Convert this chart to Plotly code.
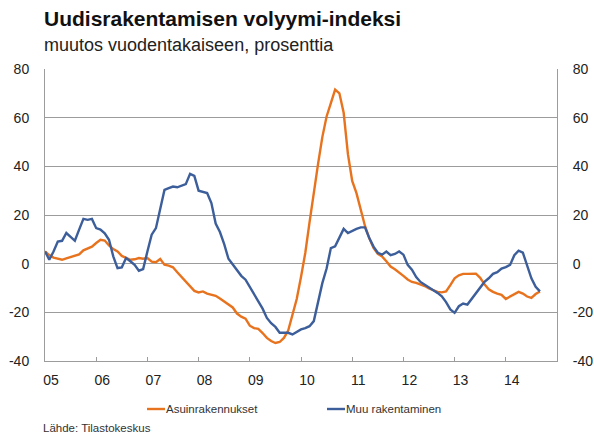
import plotly.graph_objects as go

start_year = 2005
asuin = [5.0, 3.5, 2.5, 2.0, 1.6, 2.2, 2.8, 3.3, 3.8, 5.5, 6.4, 7.0,
         8.5, 9.8, 9.5, 7.5, 6.0, 5.0, 3.2, 2.4, 1.6, 1.8, 2.3, 2.0,
         2.3, 0.8, 0.6, 1.9, -0.4, -0.8, -1.5, -3.5, -5.5, -7.3, -9.5, -11.2,
         -11.8, -11.4, -12.3, -12.7, -13.2, -14.3, -15.5, -16.8, -18.0, -20.5, -21.8, -22.6,
         -25.5, -26.5, -26.8, -28.5, -30.5, -31.8, -32.6, -32.2, -30.5, -27.5, -21.5, -14.5,
         -5.5, 4.4, 17.0, 30.0, 41.0, 52.0, 60.5, 66.0, 71.5, 70.0, 62.0, 45.0,
         34.0, 29.0, 22.5, 15.5, 10.5, 6.5, 4.0, 3.0, 1.0, -1.2, -2.3, -3.5,
         -5.0, -6.5, -7.5, -7.9, -8.5, -9.2, -10.2, -11.0, -11.6, -11.8, -11.4, -8.8,
         -6.0, -4.8, -4.2, -4.2, -4.2, -4.1, -5.8, -8.5, -10.5, -11.6, -12.3, -12.8,
         -14.5, -13.5, -12.5, -11.6, -12.3, -13.5, -14.1, -12.5, -11.4]
muu = [5.0, 1.6, 5.0, 9.1, 9.4, 12.6, 11.0, 9.4, 14.0, 18.4, 18.0, 18.4,
       14.6, 14.0, 12.5, 9.8, 3.0, -1.8, -1.5, 2.3, 1.0, -0.5, -2.9, -2.2,
       5.0, 11.9, 14.6, 22.0, 30.3, 31.0, 31.7, 31.4, 32.0, 32.7, 36.9, 36.1,
       30.0, 29.4, 29.0, 24.9, 16.5, 13.0, 8.0, 2.0, -0.5, -3.0, -5.0, -6.6,
       -9.5, -12.5, -15.5, -18.5, -22.3, -24.5, -26.0, -28.4, -28.4, -28.4, -29.1, -28.0,
       -27.0, -26.5, -25.7, -23.6, -16.1, -8.0, -2.0, 6.4, 7.1, 10.5, 14.3, 12.6,
       13.5, 14.3, 14.9, 14.9, 10.5, 7.0, 4.5, 3.7, 5.0, 3.5, 4.0, 5.0,
       3.7, -0.5, -2.5, -5.5, -7.5, -8.6, -10.0, -10.9, -12.0, -13.4, -15.8, -18.8,
       -20.2, -17.5, -16.4, -16.8, -14.5, -12.0, -9.5, -7.5, -6.0, -4.2, -3.5, -2.0,
       -1.4, -0.5, 3.5, 5.3, 4.5, -1.0, -6.0, -9.5, -11.4]
x = [start_year + i / 12 for i in range(len(asuin))]

year_ticks = list(range(2005, 2016))
year_labels = ["05", "06", "07", "08", "09", "10", "11", "12", "13", "14", ""]
y_ticks = [-40, -20, 0, 20, 40, 60, 80]
y_labels = ["-40", "-20", "0", "20", "40", "60", "80"]
series_names = ["Asuinrakennukset", "Muu rakentaminen"]

ORANGE = "#E8731E"
BLUE = "#3C5E9A"
GRID = "#9C9C9C"
FONT = "Liberation Sans, Arial, sans-serif"

W, H = 594, 434
ML, MR, MT, MB = 45, 37, 69, 73
PW, PH = W - ML - MR, H - MT - MB


def px2x(px):
    return (px - ML) / PW


def px2y(py):
    return 1 - (py - MT) / PH


fig = go.Figure()
fig.add_trace(go.Scatter(x=x, y=asuin, mode="lines", name=series_names[0],
                         line=dict(color=ORANGE, width=2.4), showlegend=False))
fig.add_trace(go.Scatter(x=x, y=muu, mode="lines", name=series_names[1],
                         line=dict(color=BLUE, width=2.4), showlegend=False))
fig.add_trace(go.Scatter(x=x, y=asuin, mode="lines", yaxis="y2", showlegend=False,
                         opacity=0, hoverinfo="skip", line=dict(width=0)))

axis_common = dict(range=[-40, 80], tickvals=y_ticks, ticktext=y_labels,
                   showgrid=True, gridcolor=GRID,
                   gridwidth=1, showline=True, linecolor=GRID, linewidth=1,
                   ticks="", zeroline=False, automargin=False,
                   tickfont=dict(size=14, color="#222"))

annotations = [
    dict(text="<b>Uudisrakentamisen volyymi-indeksi</b>", xref="paper", yref="paper",
         x=px2x(42), y=px2y(19), xanchor="left", yanchor="middle", showarrow=False,
         font=dict(size=21, color="#111")),
    dict(text="muutos vuodentakaiseen, prosenttia", xref="paper", yref="paper",
         x=px2x(42), y=px2y(45), xanchor="left", yanchor="middle", showarrow=False,
         font=dict(size=18, color="#222")),
    dict(text="Lähde: Tilastokeskus", xref="paper", yref="paper",
         x=px2x(41), y=px2y(428), xanchor="left", yanchor="middle", showarrow=False,
         font=dict(size=11.5, color="#333")),
]
shapes = []
legend_items = [(series_names[0], ORANGE, 147, 165), (series_names[1], BLUE, 327, 345)]
for name, col, x0, x1 in legend_items:
    shapes.append(dict(type="line", xref="paper", yref="paper",
                       x0=px2x(x0), x1=px2x(x1), y0=px2y(409), y1=px2y(409),
                       line=dict(color=col, width=2.4)))
    annotations.append(dict(text=name, xref="paper", yref="paper",
                            x=px2x(x1 - 1), y=px2y(409), xanchor="left", yanchor="middle",
                            showarrow=False, font=dict(size=11.5, color="#333")))

fig.update_layout(
    width=W, height=H,
    margin=dict(l=ML, r=MR, t=MT, b=MB, autoexpand=False),
    paper_bgcolor="white", plot_bgcolor="white",
    font=dict(family=FONT, color="#222"),
    xaxis=dict(range=[2005, 2015], tickvals=year_ticks, ticktext=year_labels,
               showgrid=False, showline=True, linecolor=GRID, linewidth=1,
               ticks="inside", ticklen=4, tickcolor=GRID, zeroline=False,
               automargin=False, ticklabelshift=6, ticklabelstandoff=6,
               tickfont=dict(size=14, color="#222")),
    yaxis=dict(**axis_common, side="left", ticklabelstandoff=12),
    yaxis2=dict(**axis_common, side="right", overlaying="y", matches="y",
                ticklabelstandoff=12),
    showlegend=False,
    annotations=annotations,
    shapes=shapes,
)

post = ("document.body.style.margin='0';document.body.style.overflow='hidden';"
        "var gd=document.getElementById('{plot_id}');"
        "Plotly.relayout(gd,{width:%d,height:%d});" % (W, H))
fig.write_html("out.html", post_script=post, config={"displayModeBar": False})
